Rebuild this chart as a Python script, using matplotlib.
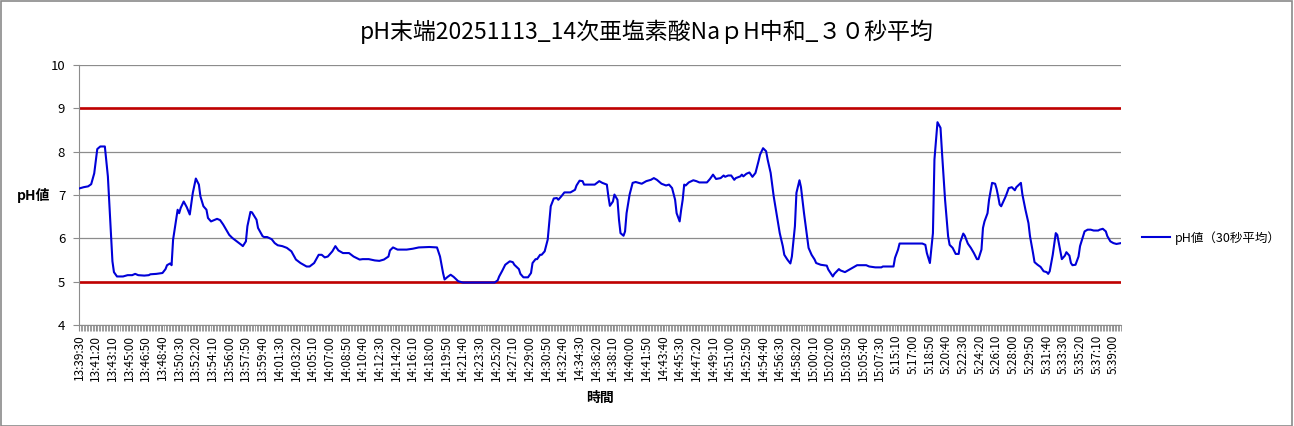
"""pH 30-second average trend, recreated from an Excel line chart."""

import matplotlib
matplotlib.use("Agg")
import matplotlib.pyplot as plt
from matplotlib.patches import Rectangle

plt.rcParams["font.family"] = ["Noto Sans CJK JP", "DejaVu Sans"]

TITLE = "pH末端20251113_14次亜塩素酸Na\uff50H中和_\uff13\uff10秒平均"
SERIES_NAME = "pH値（30秒平均）"

# sample number (one sample every 10 s) and pH value
sample_idx = [
    0, 3, 6, 8, 10, 12, 14, 17, 19, 21, 22, 23, 25, 29, 32, 35, 37, 39, 43, 46,
    47, 51, 55, 57, 58, 60, 61, 62, 64, 65, 66, 67, 69, 71, 73, 75, 77, 79, 80, 82,
    84, 85, 87, 89, 91, 93, 95, 97, 99, 101, 104, 107, 108, 110, 111, 113, 114, 117, 118, 121,
    122, 124, 127, 129, 131, 134, 137, 140, 143, 146, 150, 152, 155, 158, 160, 162, 164, 167, 169, 171,
    174, 178, 181, 185, 187, 191, 195, 198, 201, 204, 205, 207, 210, 216, 220, 224, 231, 236, 238, 240,
    241, 243, 245, 247, 250, 253, 263, 274, 276, 277, 279, 281, 284, 286, 287, 290, 291, 293, 296, 298,
    299, 301, 302, 304, 305, 307, 309, 310, 311, 313, 315, 316, 318, 320, 324, 327, 328, 330, 332, 333,
    340, 343, 344, 345, 348, 349, 350, 352, 353, 355, 356, 357, 359, 360, 361, 363, 365, 367, 371, 374,
    377, 379, 381, 384, 387, 389, 391, 393, 394, 396, 397, 398, 399, 400, 402, 405, 407, 409, 414, 416,
    418, 420, 423, 425, 426, 428, 430, 432, 433, 436, 437, 438, 440, 442, 443, 444, 446, 448, 449, 451,
    453, 454, 456, 458, 460, 462, 464, 465, 467, 469, 470, 472, 473, 475, 476, 478, 480, 481, 483, 485,
    486, 489, 493, 494, 497, 498, 501, 502, 505, 507, 510, 513, 519, 521, 525, 529, 530, 537, 538, 540,
    541, 546, 556, 558, 559, 561, 563, 564, 566, 568, 569, 571, 573, 574, 576, 578, 580, 581, 583, 584,
    586, 588, 590, 592, 593, 595, 596, 597, 599, 600, 602, 604, 605, 606, 607, 608, 610, 611, 613, 615,
    617, 618, 621, 622, 624, 626, 627, 629, 630, 632, 634, 636, 638, 639, 640, 642, 644, 645, 647, 648,
    650, 651, 653, 654, 655, 657, 659, 660, 662, 663, 665, 667, 669, 672, 673, 675, 677, 678, 680, 682,
    684, 687,
]
ph_values = [
    7.15, 7.18, 7.20, 7.25, 7.50, 8.06, 8.12, 8.12, 7.43, 6.12, 5.47, 5.22, 5.12, 5.12, 5.15, 5.15, 5.18, 5.15, 5.14, 5.15,
    5.17, 5.18, 5.20, 5.29, 5.38, 5.42, 5.38, 5.97, 6.43, 6.66, 6.58, 6.70, 6.85, 6.72, 6.55, 7.05, 7.38, 7.24, 6.97, 6.74,
    6.66, 6.47, 6.39, 6.42, 6.45, 6.42, 6.32, 6.20, 6.08, 6.01, 5.93, 5.85, 5.82, 5.93, 6.28, 6.61, 6.60, 6.43, 6.24, 6.05,
    6.03, 6.03, 5.98, 5.89, 5.84, 5.82, 5.78, 5.70, 5.51, 5.43, 5.35, 5.35, 5.43, 5.62, 5.62, 5.56, 5.58, 5.70, 5.82, 5.72,
    5.66, 5.66, 5.58, 5.51, 5.52, 5.52, 5.49, 5.48, 5.51, 5.58, 5.72, 5.79, 5.74, 5.74, 5.76, 5.79, 5.80, 5.79, 5.58, 5.20,
    5.05, 5.11, 5.16, 5.11, 5.01, 4.98, 4.98, 4.98, 5.03, 5.12, 5.25, 5.39, 5.47, 5.45, 5.39, 5.29, 5.18, 5.10, 5.10, 5.20,
    5.43, 5.52, 5.52, 5.62, 5.62, 5.70, 5.97, 6.35, 6.74, 6.92, 6.93, 6.89, 6.97, 7.06, 7.06, 7.12, 7.22, 7.33, 7.32, 7.24,
    7.24, 7.32, 7.30, 7.28, 7.24, 6.97, 6.75, 6.85, 7.01, 6.89, 6.43, 6.12, 6.06, 6.16, 6.58, 7.01, 7.28, 7.30, 7.26, 7.32,
    7.35, 7.39, 7.35, 7.26, 7.22, 7.24, 7.16, 6.89, 6.58, 6.39, 6.66, 6.89, 7.24, 7.22, 7.29, 7.34, 7.32, 7.29, 7.29, 7.37,
    7.47, 7.37, 7.39, 7.45, 7.42, 7.45, 7.45, 7.35, 7.39, 7.43, 7.47, 7.43, 7.49, 7.52, 7.47, 7.42, 7.51, 7.78, 7.93, 8.08,
    8.01, 7.82, 7.51, 6.97, 6.55, 6.12, 5.82, 5.62, 5.51, 5.42, 5.58, 6.28, 7.05, 7.34, 7.18, 6.58, 6.05, 5.78, 5.62, 5.51,
    5.43, 5.39, 5.37, 5.28, 5.12, 5.18, 5.29, 5.26, 5.22, 5.26, 5.32, 5.38, 5.38, 5.35, 5.33, 5.33, 5.35, 5.35, 5.55, 5.74,
    5.88, 5.88, 5.88, 5.85, 5.66, 5.43, 6.12, 7.82, 8.68, 8.55, 7.97, 6.89, 6.05, 5.85, 5.78, 5.64, 5.64, 5.91, 6.11, 6.06,
    5.88, 5.78, 5.66, 5.52, 5.52, 5.74, 6.24, 6.39, 6.58, 6.89, 7.28, 7.26, 7.14, 6.97, 6.78, 6.74, 6.89, 6.97, 7.16, 7.18,
    7.11, 7.18, 7.28, 7.01, 6.66, 6.35, 6.05, 5.66, 5.45, 5.39, 5.34, 5.24, 5.22, 5.18, 5.24, 5.62, 6.12, 6.08, 5.70, 5.52,
    5.60, 5.68, 5.60, 5.43, 5.38, 5.39, 5.58, 5.82, 6.05, 6.16, 6.20, 6.20, 6.18, 6.18, 6.20, 6.22, 6.16, 6.05, 5.93, 5.89,
    5.87, 5.89,
]

# category labels shown every 11 samples
time_labels = [
    "13:39:30", "13:41:20", "13:43:10", "13:45:00", "13:46:50", "13:48:40", "13:50:30",
    "13:52:20", "13:54:10", "13:56:00", "13:57:50", "13:59:40", "14:01:30", "14:03:20",
    "14:05:10", "14:07:00", "14:08:50", "14:10:40", "14:12:30", "14:14:20", "14:16:10",
    "14:18:00", "14:19:50", "14:21:40", "14:23:30", "14:25:20", "14:27:10", "14:29:00",
    "14:30:50", "14:32:40", "14:34:30", "14:36:20", "14:38:10", "14:40:00", "14:41:50",
    "14:43:40", "14:45:30", "14:47:20", "14:49:10", "14:51:00", "14:52:50", "14:54:40",
    "14:56:30", "14:58:20", "15:00:10", "15:02:00", "15:03:50", "15:05:40", "15:07:30",
    "5:15:10", "5:17:00", "5:18:50", "5:20:40", "5:22:30", "5:24:20", "5:26:10",
    "5:28:00", "5:29:50", "5:31:40", "5:33:30", "5:35:20", "5:37:10", "5:39:00",
]
LABEL_STEP = 11
N_SAMPLES = 688

LOWER_LIMIT = 5
UPPER_LIMIT = 9


def main() -> None:
    fig = plt.figure(figsize=(12.94, 4.26), dpi=100)
    fig.patches.append(
        Rectangle((0.0005, 0.001), 0.998, 0.997, transform=fig.transFigure,
                  fill=False, edgecolor="#8a8a8a", linewidth=1.2)
    )
    ax = fig.add_axes([0.0611, 0.2371, 0.8052, 0.6103])

    ax.axhline(UPPER_LIMIT, color="#c00000", linewidth=1.9, zorder=2)
    ax.axhline(LOWER_LIMIT, color="#c00000", linewidth=1.9, zorder=2)
    ax.plot(sample_idx, ph_values, color="#0000d8", linewidth=1.5,
            label=SERIES_NAME, zorder=3)

    ax.set_xlim(0, N_SAMPLES - 1)
    ax.set_ylim(4, 10)
    ax.set_yticks(range(4, 11))
    ax.grid(axis="y", color="#8c8c8c", linewidth=0.9, zorder=1)

    ax.set_xticks([i * LABEL_STEP for i in range(len(time_labels))])
    ax.set_xticklabels(time_labels, rotation=90, fontsize=8.5)
    ax.set_xticks(range(0, N_SAMPLES), minor=True)
    ax.tick_params(axis="x", which="both", length=4, color="#8c8c8c", pad=3)
    ax.tick_params(axis="y", length=4, color="#8c8c8c", labelsize=9.5, pad=6)

    for side in ("top", "right"):
        ax.spines[side].set_visible(False)
    for side in ("left", "bottom"):
        ax.spines[side].set_color("#8c8c8c")

    ax.set_xlabel("時間", fontsize=10, fontweight="bold", labelpad=7)
    ax.set_ylabel("pH値", fontsize=10, fontweight="bold", rotation=0,
                  labelpad=12, va="center")
    fig.suptitle(TITLE, x=0.5, y=0.955, fontsize=16.5)

    fig.legend(loc="center left", bbox_to_anchor=(0.874, 0.442), frameon=False,
               fontsize=9, handlelength=2.2, handletextpad=0.4)

    fig.savefig("out.png", dpi=100)


if __name__ == "__main__":
    main()
